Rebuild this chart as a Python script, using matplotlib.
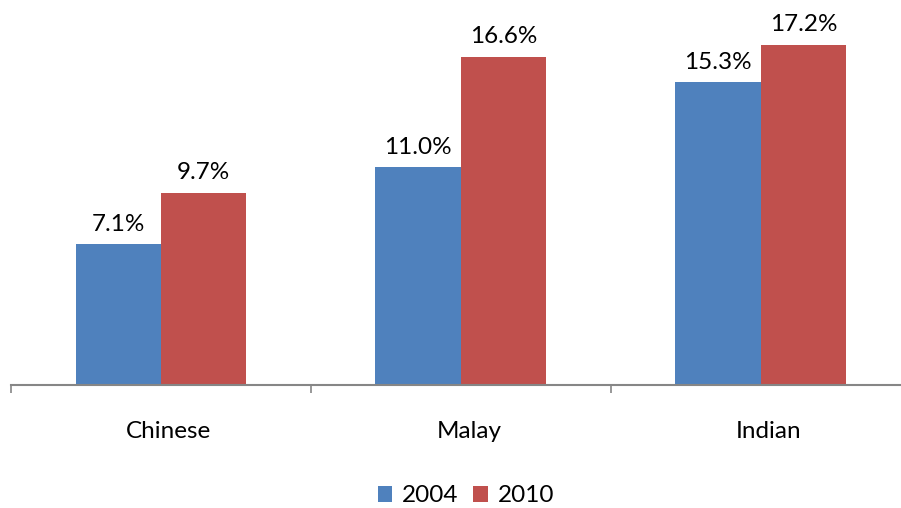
import matplotlib
matplotlib.use('Agg')
import matplotlib.pyplot as plt
import matplotlib.transforms as mtransforms
import numpy as np

plt.rcParams['font.family'] = ['Lato', 'DejaVu Sans']

groups = ['Chinese', 'Malay', 'Indian']
years = ['2004', '2010']
rate_2004 = [7.1, 11.0, 15.3]
rate_2010 = [9.7, 16.6, 17.2]

blue = '#4F81BD'
red = '#C0504D'
grey = '#868686'

fig = plt.figure(figsize=(9.01, 5.08), dpi=100)
ax = fig.add_axes([11 / 901, 123.5 / 508, 900 / 901, 384.5 / 508])

x = np.arange(len(groups))
w = 0.285
b1 = ax.bar(x - w / 2, rate_2004, w, color=blue, label=years[0])
b2 = ax.bar(x + w / 2, rate_2010, w, color=red, label=years[1])

for bars, vals in ((b1, rate_2004), (b2, rate_2010)):
    for bar, v in zip(bars, vals):
        ax.annotate('%.1f%%' % v, (bar.get_x() + bar.get_width() / 2, v),
                    xytext=(0, 7), textcoords='offset points',
                    ha='center', va='bottom', fontsize=17.5, color='black',
                    annotation_clip=False)

ax.set_xlim(-0.5, 2.5)
ax.set_ylim(0, 19.47)

# boundary ticks between categories, labels sit on minor ticks at centres
ax.set_xticks([-0.5, 0.5, 1.5, 2.5])
ax.set_xticklabels([])
ax.tick_params(axis='x', which='major', direction='out', length=6,
               width=1.2, color=grey)
ax.set_xticks(x, minor=True)
ax.set_xticklabels(groups, minor=True)
ax.tick_params(axis='x', which='minor', length=0, pad=26, labelsize=17.5)
shift = mtransforms.ScaledTranslation(8 / 100, 0, fig.dpi_scale_trans)
for lbl in ax.get_xticklabels(minor=True):
    lbl.set_transform(lbl.get_transform() + shift)
ax.set_yticks([])

for s in ['top', 'right', 'left']:
    ax.spines[s].set_visible(False)
ax.spines['bottom'].set_color(grey)
ax.spines['bottom'].set_linewidth(1.5)

fig.legend(handles=[b1, b2], loc='lower center', bbox_to_anchor=(0.517, -0.04),
           ncol=2, frameon=False, fontsize=17.5, handlelength=0.6,
           handleheight=0.6, handletextpad=0.4, columnspacing=0.6)

fig.savefig('out.png', dpi=100)
